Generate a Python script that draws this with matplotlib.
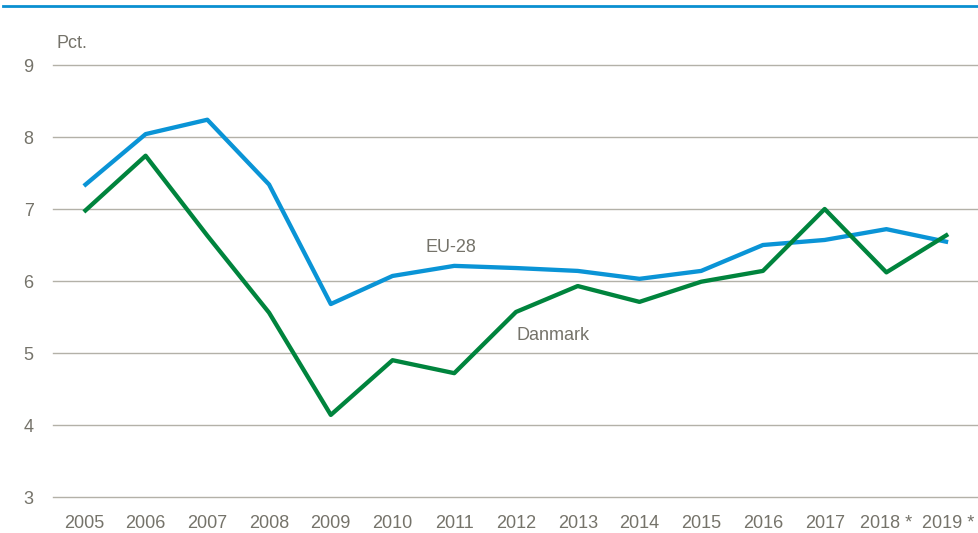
import matplotlib.pyplot as plt
from matplotlib.lines import Line2D

# Data
years = ["2005", "2006", "2007", "2008", "2009", "2010", "2011", "2012",
         "2013", "2014", "2015", "2016", "2017", "2018 *", "2019 *"]
eu28 = [7.32, 8.04, 8.24, 7.34, 5.68, 6.07, 6.21, 6.18,
        6.14, 6.03, 6.14, 6.50, 6.57, 6.72, 6.54]
danmark = [6.96, 7.74, 6.63, 5.56, 4.14, 4.90, 4.72, 5.57,
           5.93, 5.71, 5.99, 6.14, 7.00, 6.12, 6.65]
yticks = [3, 4, 5, 6, 7, 8, 9]

blue = "#0a94d6"
green = "#00843d"
grey_text = "#75736a"
grid_col = "#b3b1a8"

plt.rcParams['font.family'] = ['Liberation Sans', 'DejaVu Sans']

fig = plt.figure(figsize=(9.79, 5.33), dpi=100)
ax = fig.add_axes([53 / 979, 1 - 497 / 533, 1 - 53 / 979, (497 - 65) / 533])

x = range(len(years))
ax.plot(x, eu28, color=blue, linewidth=3.1, solid_capstyle='butt', zorder=3)
ax.plot(x, danmark, color=green, linewidth=3.1, solid_capstyle='butt', zorder=3)

ax.set_xlim(-0.5, len(years) - 0.5)
ax.set_ylim(3, 9)
ax.set_yticks(yticks)
ax.set_xticks(list(x))
ax.set_xticklabels(years)
ax.yaxis.grid(True, color=grid_col, linewidth=1)
for gl in ax.get_ygridlines():
    gl.set_clip_on(False)
ax.set_axisbelow(True)
for s in ax.spines.values():
    s.set_visible(False)
ax.tick_params(axis='both', length=0, labelsize=13, colors=grey_text)
ax.tick_params(axis='y', pad=14)
ax.tick_params(axis='x', pad=13)

# series labels
ax.text(5.95, 6.47, "EU-28", color=grey_text, fontsize=13, ha='center', va='center')
ax.text(7.6, 5.25, "Danmark", color=grey_text, fontsize=13, ha='center', va='center')

# unit label
fig.text(57 / 979, 1 - 44 / 533, "Pct.", color=grey_text, fontsize=13, ha='left', va='center')

# top rule
fig.add_artist(Line2D([3 / 979, 1], [1 - 6 / 533, 1 - 6 / 533], color="#0a8fd0",
                      linewidth=2, transform=fig.transFigure))

fig.savefig("out.png", dpi=100)
